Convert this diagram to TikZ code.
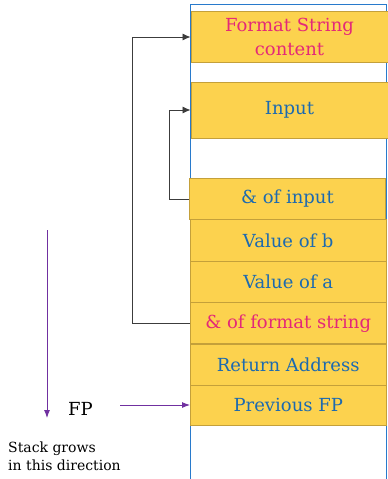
\documentclass[tikz,border=0pt]{standalone}
\usepackage{fontspec}
\setmainfont{DejaVu Serif}
\usetikzlibrary{arrows.meta}
\definecolor{boxfill}{RGB}{252,210,78}
\definecolor{boxedge}{RGB}{196,160,58}
\definecolor{txtblue}{RGB}{28,106,176}
\definecolor{txtpink}{RGB}{228,40,120}
\definecolor{outerblue}{RGB}{40,122,204}
\definecolor{arrpurple}{RGB}{112,48,160}
\definecolor{conngray}{RGB}{60,60,60}
\tikzset{
  cell/.style={draw=boxedge, fill=boxfill, line width=1pt, inner sep=0pt,
    font=\fontsize{18}{23.5}\selectfont, align=center},
  bluetxt/.style={text=txtblue},
  pinktxt/.style={text=txtpink},
  link/.style={draw=conngray, line width=0.8pt, -{Latex[length=8pt,width=7pt]}},
  purplelink/.style={draw=arrpurple, line width=0.9pt, -{Latex[length=8pt,width=6pt]}},
}
\begin{document}
\begin{tikzpicture}[x=1pt,y=-1pt]
\useasboundingbox (0,0) rectangle (388,479);
% outer stack frame
\draw[outerblue, line width=1.2pt] (190.3,4.7) rectangle (386.5,495);
% cells
\node[cell, pinktxt, minimum width=197pt, minimum height=50.6pt] (fmt) at (289.5,37) {Format String\\content};
\node[cell, bluetxt, minimum width=197pt, minimum height=56pt] (inp) at (289.5,110) {Input};
\node[cell, bluetxt, minimum width=196pt, minimum height=40.6pt] (aoi) at (287.5,199) {\& of input};
\node[cell, bluetxt, minimum width=195.5pt, minimum height=42.4pt] (vb) at (288.25,240.5) {Value of b};
\node[cell, bluetxt, minimum width=195.5pt, minimum height=41pt] (va) at (288.25,282.2) {Value of a};
\node[cell, pinktxt, minimum width=195.5pt, minimum height=41.3pt] (afs) at (288.25,323.3) {\& of format string};
\node[cell, bluetxt, minimum width=195.5pt, minimum height=41pt] (ra) at (288.25,364.5) {Return Address};
\node[cell, bluetxt, minimum width=195.5pt, minimum height=40pt] (pfp) at (288.25,405) {Previous FP};
% pointer connectors
\draw[link] (afs.west) -- ++(-58,0) |- (fmt.west);
\draw[link] (aoi.west) -- ++(-20,0) |- (inp.west);
% stack direction
\coordinate (sgtop) at (47,230);
\coordinate (sgbot) at (47,418);
\draw[purplelink] (sgtop) -- (sgbot);
\node[font=\fontsize{18}{22}\selectfont, inner sep=0pt, anchor=base] (fp) at (80.5,415) {FP};
\coordinate (fpstart) at (120,405);
\draw[purplelink] (fpstart) -- (pfp.west);
\node[font=\fontsize{14}{18}\selectfont, align=left, inner sep=0pt, anchor=north west] (sg) at (8,441.5) {Stack grows\\in this direction};
\end{tikzpicture}
\end{document}
